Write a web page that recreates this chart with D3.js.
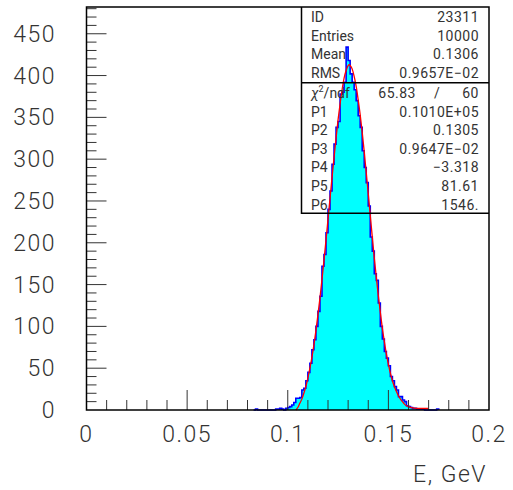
<!DOCTYPE html>
<html>
<head>
<meta charset="utf-8">
<script src="https://cdn.jsdelivr.net/npm/d3@7"></script>
<style>
  body { margin: 0; background: #fff; }
  text { font-family: "Roboto", "DejaVu Sans", sans-serif; fill: #333; }
</style>
</head>
<body>
<div id="chart"></div>
<script>
// histogram: bin width 0.001, first bin starts at 0.083
const binWidth = 0.001;
const binStart = 0.083;
const counts = [
  0, 1, 0, 0, 0, 0, 0, 0, 0, 0, 0, 1, 1, 2, 1, 0, 2,          // 0.083 - 0.099
  3, 4, 6, 9, 14, 14, 15, 24, 26, 35,                         // 0.100 - 0.109
  45, 56, 72, 84, 100, 118, 136, 172, 186, 212,               // 0.110 - 0.119
  240, 262, 294, 318, 338, 345, 378, 380, 392, 434,           // 0.120 - 0.129
  418, 402, 392, 383, 370, 352, 338, 310, 290, 272,           // 0.130 - 0.139
  244, 207, 190, 163, 155, 128, 100, 85, 70, 62,              // 0.140 - 0.149
  53, 40, 35, 28, 24, 16, 16, 12, 10, 5,                      // 0.150 - 0.159
  4, 3, 2, 2, 1, 1, 1, 1, 0, 0,                               // 0.160 - 0.169
  0, 0, 0, 0, 1                                               // 0.170 - 0.174
];

// fitted curve
const fitX = [0.104, 0.105, 0.106, 0.107, 0.108, 0.109, 0.110, 0.111, 0.112, 0.113,
  0.114, 0.115, 0.116, 0.117, 0.118, 0.119, 0.120, 0.121, 0.122, 0.123,
  0.124, 0.125, 0.126, 0.127, 0.128, 0.129, 0.130, 0.1305, 0.131, 0.132,
  0.133, 0.134, 0.135, 0.136, 0.137, 0.138, 0.139, 0.140, 0.141, 0.142,
  0.143, 0.144, 0.145, 0.146, 0.147, 0.148, 0.149, 0.150, 0.151, 0.152,
  0.153, 0.154, 0.155, 0.156, 0.157, 0.158, 0.159, 0.160, 0.161, 0.162,
  0.164, 0.166, 0.168, 0.170];
const fitY = [0, 3, 8, 13, 20, 28, 38, 50, 63, 78,
  95, 114, 134, 156, 179, 203, 228, 253, 278, 302,
  325, 347, 366, 383, 397, 406, 412, 413, 412, 408,
  399, 387, 371, 353, 332, 309, 284, 259, 233, 207,
  182, 159, 137, 117, 98, 82, 67, 55, 44, 35,
  28, 22, 17, 13, 10, 7, 5, 4, 3, 2.5,
  2, 2, 2, 2];

const xTicks = [0, 0.05, 0.1, 0.15, 0.2];
const xTickLabels = ["0", "0.05", "0.1", "0.15", "0.2"];
const yTicks = [0, 50, 100, 150, 200, 250, 300, 350, 400, 450];

const statNames = ["ID", "Entries", "Mean", "RMS"];
const statValues = ["23311", "10000", "0.1306", "0.9657E\u221202"];
const chi2 = "65.83", ndf = "60";
const parNames = ["P1", "P2", "P3", "P4", "P5", "P6"];
const parValues = ["0.1010E+05", "0.1305", "0.9647E\u221202", "\u22123.318", "81.61", "1546."];

const W = 513, H = 490;
const frameL = 86.5, frameR = 489, frameT = 7, frameB = 410;

const svg = d3.select("#chart").append("svg")
    .attr("width", W)
    .attr("height", H);

const x = d3.scaleLinear().domain([0, 0.2]).range([frameL, frameR]);
const y = d3.scaleLinear().domain([0, 482]).range([frameB, frameT]);

// histogram outline points
const pts = [[x(binStart), y(0)]];
counts.forEach((c, i) => {
    const x0 = binStart + i * binWidth;
    pts.push([x(x0), y(c)]);
    pts.push([x(x0 + binWidth), y(c)]);
});
pts.push([x(binStart + counts.length * binWidth), y(0)]);

const line = d3.line();

svg.append("path")
    .attr("d", line(pts) + "Z")
    .attr("fill", "#00ffff")
    .attr("stroke", "none");

svg.append("path")
    .attr("d", line(pts))
    .attr("fill", "none")
    .attr("stroke", "#0000ff")
    .attr("stroke-width", 1.6);

// fit curve
svg.append("path")
    .datum(fitX.map((v, i) => [v, fitY[i]]))
    .attr("d", d3.line().x(d => x(d[0])).y(d => y(d[1])).curve(d3.curveMonotoneX))
    .attr("fill", "none")
    .attr("stroke", "#ff0000")
    .attr("stroke-width", 1.3);

// ticks inside the frame
const xMinor = d3.range(1, 20).map(i => i * 0.01);
svg.selectAll(".xt")
    .data(xMinor)
    .enter()
    .append("line")
    .attr("x1", d => x(d)).attr("x2", d => x(d))
    .attr("y1", frameB)
    .attr("y2", (d, i) => frameB - ((i + 1) % 5 === 0 ? 20 : 10))
    .attr("stroke", "#333")
    .attr("stroke-width", 1);

const yMinor = d3.range(1, 49).map(i => i * 10);
svg.selectAll(".yt")
    .data(yMinor)
    .enter()
    .append("line")
    .attr("y1", d => y(d)).attr("y2", d => y(d))
    .attr("x1", frameL)
    .attr("x2", d => frameL + (d % 50 === 0 ? 20 : 10))
    .attr("stroke", "#333")
    .attr("stroke-width", 1);

// frame
svg.append("rect")
    .attr("x", frameL).attr("y", frameT)
    .attr("width", frameR - frameL).attr("height", frameB - frameT)
    .attr("fill", "none")
    .attr("stroke", "#000")
    .attr("stroke-width", 1.5);

// tick labels
svg.selectAll(".xl")
    .data(xTicks)
    .enter()
    .append("text")
    .attr("x", d => x(d))
    .attr("y", 442)
    .attr("text-anchor", "middle")
    .style("font-size", "23px")
    .style("font-weight", 300)
    .style("letter-spacing", "1.5px")
    .text((d, i) => xTickLabels[i]);

svg.selectAll(".yl")
    .data(yTicks)
    .enter()
    .append("text")
    .attr("x", 56)
    .attr("y", d => y(d) + 8)
    .attr("text-anchor", "end")
    .style("font-size", "23px")
    .style("font-weight", 300)
    .style("letter-spacing", "1.5px")
    .text(d => d);

svg.append("text")
    .attr("x", 487)
    .attr("y", 482)
    .attr("text-anchor", "end")
    .style("font-size", "23px")
    .style("font-weight", 300)
    .style("letter-spacing", "1.5px")
    .text("E, GeV");

// statistics box
const bx = 301.5, bMid = 82.7, bBot = 213.3;
svg.append("path")
    .attr("d", `M${bx},${frameT}V${bBot}H${frameR}M${bx},${bMid}H${frameR}`)
    .attr("fill", "none")
    .attr("stroke", "#000")
    .attr("stroke-width", 1.5);

const rowH = 18.6;
const box = svg.append("g").style("font-size", "14px");

statNames.forEach((n, i) => {
    const ty = 22 + i * rowH;
    box.append("text").attr("x", 311).attr("y", ty).text(n);
    box.append("text").attr("x", 479).attr("y", ty).attr("text-anchor", "end")
        .style("letter-spacing", "0.5px").text(statValues[i]);
});

const cy = 22 + 4 * rowH + 1.5;
const chiText = box.append("text").attr("x", 311).attr("y", cy);
chiText.append("tspan").style("font-style", "italic").text("\u03c7");
chiText.append("tspan").attr("dy", -6).style("font-size", "9px").text("2");
chiText.append("tspan").attr("dy", 6).text("/ndf");
box.append("text").attr("x", 416).attr("y", cy).attr("text-anchor", "end")
    .style("letter-spacing", "0.5px").text(chi2);
box.append("text").attr("x", 437).attr("y", cy).attr("text-anchor", "middle").text("/");
box.append("text").attr("x", 479).attr("y", cy).attr("text-anchor", "end")
    .style("letter-spacing", "0.5px").text(ndf);

parNames.forEach((n, i) => {
    const ty = cy + (i + 1) * rowH;
    box.append("text").attr("x", 311).attr("y", ty).text(n);
    box.append("text").attr("x", 479).attr("y", ty).attr("text-anchor", "end")
        .style("letter-spacing", "0.5px").text(parValues[i]);
});
</script>
</body>
</html>
